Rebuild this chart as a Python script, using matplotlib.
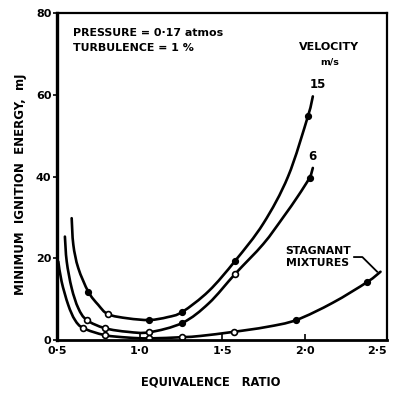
import matplotlib
matplotlib.use("Agg")
import matplotlib.pyplot as plt
from matplotlib.path import Path
from matplotlib.patches import PathPatch

# Minimum ignition energy vs equivalence ratio (P = 0.17 atm, turbulence 1 %)
# Curve traces
v15_curve_x = [0.589, 0.599, 0.629, 0.69, 0.75, 0.81, 0.93, 1.06, 1.17, 1.26, 1.42, 1.58, 1.75, 1.90, 2.02, 2.05]
v15_curve_y = [29.8, 23.3, 17.6, 11.8, 8.6, 6.3, 5.3, 4.9, 5.6, 6.9, 12.0, 19.4, 28.5, 40.0, 54.7, 59.6]

v6_curve_x = [0.548, 0.559, 0.589, 0.629, 0.68, 0.79, 0.93, 1.06, 1.26, 1.42, 1.58, 1.75, 1.87, 1.96, 2.03, 2.05]
v6_curve_y = [25.3, 19.2, 12.7, 7.8, 4.9, 2.9, 2.0, 1.9, 4.2, 9.0, 16.2, 23.5, 30.0, 35.2, 39.7, 42.1]

stag_curve_x = [0.508, 0.528, 0.568, 0.609, 0.66, 0.79, 0.93, 1.06, 1.26, 1.37, 1.57, 1.77, 1.95, 2.17, 2.38, 2.46]
stag_curve_y = [19.2, 14.3, 8.6, 4.9, 2.9, 1.2, 0.6, 0.4, 0.7, 1.0, 2.0, 3.2, 4.9, 9.1, 14.2, 16.7]

# Measured points (filled / open symbols)
v15_filled_x = [0.69, 1.06, 1.26, 1.58, 2.02]
v15_filled_y = [11.8, 4.9, 6.9, 19.4, 54.7]
v15_open_x = [0.81]
v15_open_y = [6.3]

v6_filled_x = [1.26, 2.03]
v6_filled_y = [4.2, 39.7]
v6_open_x = [0.68, 0.79, 1.06, 1.58]
v6_open_y = [4.9, 2.9, 1.9, 16.2]

stag_filled_x = [1.95, 2.38]
stag_filled_y = [4.9, 14.2]
stag_open_x = [0.66, 0.79, 1.06, 1.26, 1.57]
stag_open_y = [2.9, 1.2, 0.4, 0.7, 2.0]

x_ticks = [0.5, 1.0, 1.5, 2.0, 2.5]
x_tick_labels = ["0·5", "1·0", "1·5", "2·0", "2·5"]
y_ticks = [0, 20, 40, 60, 80]
y_tick_labels = ["0", "20", "40", "60", "80"]

plt.rcParams["font.family"] = ["DejaVu Sans"]
plt.rcParams["font.weight"] = "bold"

fig = plt.figure(figsize=(3.93, 3.94), dpi=100)
ax = fig.add_axes([0.145, 0.137, 0.84, 0.830])


def smooth_path(xs, ys):
    """Cubic Bezier path passing through every trace point (Catmull-Rom tangents)."""
    pts = list(zip(xs, ys))
    verts = [pts[0]]
    codes = [Path.MOVETO]
    n = len(pts)
    for i in range(n - 1):
        p0 = pts[i - 1] if i > 0 else pts[i]
        p1 = pts[i]
        p2 = pts[i + 1]
        p3 = pts[i + 2] if i + 2 < n else pts[i + 1]
        c1 = (p1[0] + (p2[0] - p0[0]) / 6.0, p1[1] + (p2[1] - p0[1]) / 6.0)
        c2 = (p2[0] - (p3[0] - p1[0]) / 6.0, p2[1] - (p3[1] - p1[1]) / 6.0)
        verts += [c1, c2, p2]
        codes += [Path.CURVE4, Path.CURVE4, Path.CURVE4]
    return Path(verts, codes)


lw = 1.9
for cx, cy in [(v15_curve_x, v15_curve_y), (v6_curve_x, v6_curve_y), (stag_curve_x, stag_curve_y)]:
    ax.add_patch(PathPatch(smooth_path(cx, cy), fill=False, edgecolor="black", lw=lw,
                           capstyle="round", joinstyle="round"))

for fx, fy in [(v15_filled_x, v15_filled_y), (v6_filled_x, v6_filled_y), (stag_filled_x, stag_filled_y)]:
    ax.plot(fx, fy, "o", color="black", ms=4.2, ls="none")
for ox, oy in [(v15_open_x, v15_open_y), (v6_open_x, v6_open_y), (stag_open_x, stag_open_y)]:
    ax.plot(ox, oy, "o", mfc="white", mec="black", mew=1.2, ms=4.2, ls="none")

ax.set_xlim(0.5, 2.5)
ax.set_ylim(0, 80)
ax.set_xticks(x_ticks)
ax.set_xticklabels(x_tick_labels)
ax.set_yticks(y_ticks)
ax.set_yticklabels(y_tick_labels)
ax.tick_params(axis="x", direction="in", length=4, width=1.2, labelsize=8, pad=4)
ax.tick_params(axis="y", direction="out", length=3, width=1.2, labelsize=8, pad=1)
for lab in ax.get_xticklabels() + ax.get_yticklabels():
    lab.set_fontweight("bold")
ax.get_xticklabels()[0].set_x(0.52)
ax.get_xticklabels()[-1].set_horizontalalignment("right")

ax.spines["left"].set_linewidth(2.4)
ax.spines["bottom"].set_linewidth(2.0)
ax.spines["top"].set_linewidth(1.6)
ax.spines["right"].set_linewidth(1.6)

ax.set_ylabel("MINIMUM  IGNITION  ENERGY,  mJ", fontsize=8.5, fontweight="bold")
ax.yaxis.set_label_coords(-0.091, 0.477)
ax.set_xlabel("EQUIVALENCE   RATIO", fontsize=8.3, fontweight="bold")
ax.xaxis.set_label_coords(0.465, -0.11)

ax.text(0.597, 75.2, "PRESSURE = 0·17 atmos", fontsize=7.9, fontweight="bold", va="center", ha="left")
ax.text(0.597, 71.4, "TURBULENCE = 1 %", fontsize=7.9, fontweight="bold", va="center", ha="left")
ax.text(2.15, 71.8, "VELOCITY", fontsize=8, fontweight="bold", va="center", ha="center")
ax.text(2.15, 68.1, "m/s", fontsize=6.8, fontweight="bold", va="center", ha="center")
ax.text(2.08, 62.5, "15", fontsize=8.5, fontweight="bold", va="center", ha="center")
ax.text(2.05, 45.0, "6", fontsize=8.5, fontweight="bold", va="center", ha="center")
ax.text(2.08, 20.3, "STAGNANT\nMIXTURES", fontsize=7.8, fontweight="bold", va="center", ha="center",
        linespacing=1.35)
ax.plot([2.30, 2.35, 2.44], [20.3, 20.3, 16.7], color="black", lw=1.3)

fig.savefig("out.png", dpi=100)
